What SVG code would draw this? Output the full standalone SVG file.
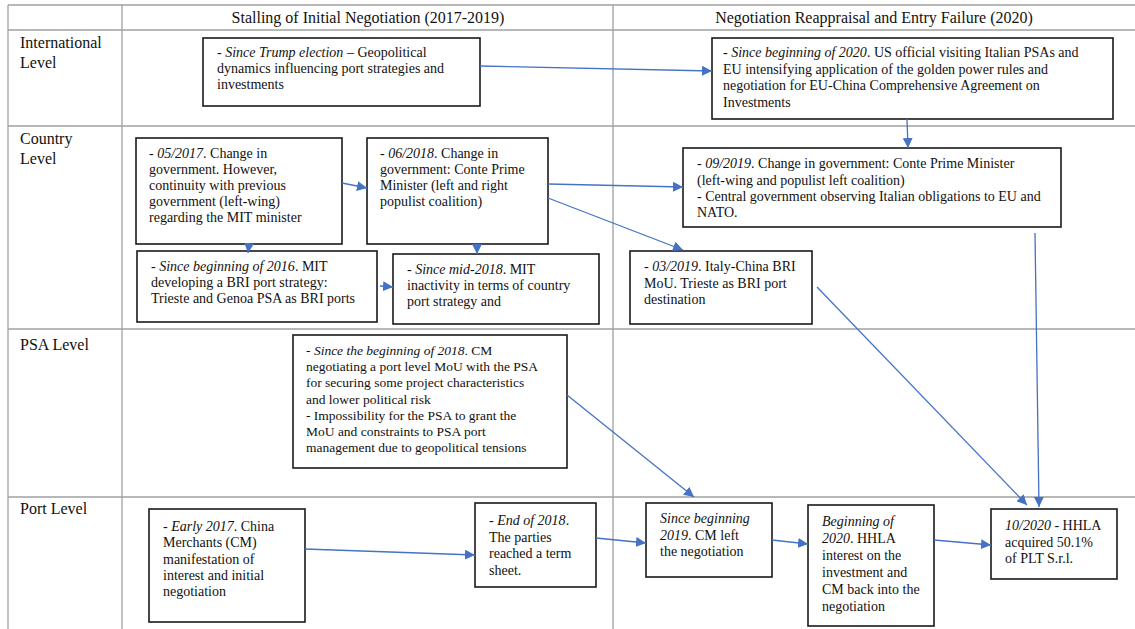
<svg xmlns="http://www.w3.org/2000/svg" width="1135" height="629" viewBox="0 0 1135 629">
<defs>
<marker id="ah" markerWidth="11" markerHeight="10" refX="10" refY="5" orient="auto" markerUnits="userSpaceOnUse">
<path d="M0,0 L10,5 L0,10 z" fill="#4472C4"/>
</marker>
<style>
.grid{stroke:#a0a0a0;stroke-width:1.3;fill:none}
.box{fill:#fff;stroke:#1a1a1a;stroke-width:1.6}
.t{font-family:"Liberation Serif","Times New Roman",serif;font-size:14px;fill:#111}
.s{font-size:13.5px}
.h{font-family:"Liberation Serif","Times New Roman",serif;font-size:16px;fill:#111}
.i{font-style:italic}
.c line{stroke:#4472C4;stroke-width:1.3;marker-end:url(#ah)}
</style>
</defs>
<rect width="1135" height="629" fill="#fff"/>
<g id="grid" class="grid">
<line x1="8" y1="5" x2="1135" y2="5"/>
<line x1="8" y1="30" x2="1135" y2="30"/>
<line x1="8" y1="126" x2="1135" y2="126"/>
<line x1="8" y1="329" x2="1135" y2="329"/>
<line x1="8" y1="497" x2="1135" y2="497"/>
<line x1="8" y1="5" x2="8" y2="629"/>
<line x1="122" y1="5" x2="122" y2="629"/>
<line x1="613" y1="5" x2="613" y2="629"/>
</g>
<g id="headers" class="h">
<text x="368" y="23" text-anchor="middle">Stalling of Initial Negotiation (2017-2019)</text>
<text x="874" y="23" text-anchor="middle">Negotiation Reappraisal and Entry Failure (2020)</text>
<text x="20" y="48">International</text>
<text x="20" y="68">Level</text>
<text x="20" y="144">Country</text>
<text x="20" y="164">Level</text>
<text x="20" y="350">PSA Level</text>
<text x="20" y="514">Port Level</text>
</g>
<g id="n1"><rect class="box" x="203" y="38" width="277" height="68"/>
<text class="t" x="217" y="57">- <tspan class="i">Since Trump election</tspan> – Geopolitical</text>
<text class="t" x="217" y="73">dynamics influencing port strategies and</text>
<text class="t" x="217" y="89">investments</text></g>
<g id="n2"><rect class="box" x="712" y="38" width="401" height="81"/>
<text class="t" x="723" y="57">- <tspan class="i">Since beginning of 2020</tspan>. US official visiting Italian PSAs and</text>
<text class="t" x="723" y="73.5">EU intensifying application of the golden power rules and</text>
<text class="t" x="723" y="90">negotiation for EU-China Comprehensive Agreement on</text>
<text class="t" x="723" y="106.5">Investments</text></g>
<g id="n3"><rect class="box" x="136" y="138" width="206" height="106"/>
<text class="t" x="149" y="158">- <tspan class="i">05/2017</tspan>. Change in</text>
<text class="t" x="149" y="174">government. However,</text>
<text class="t" x="149" y="190">continuity with previous</text>
<text class="t" x="149" y="206">government (left-wing)</text>
<text class="t" x="149" y="222">regarding the MIT minister</text></g>
<g id="n4"><rect class="box" x="367" y="138" width="181" height="106"/>
<text class="t" x="380" y="158">- <tspan class="i">06/2018</tspan>. Change in</text>
<text class="t" x="380" y="174">government: Conte Prime</text>
<text class="t" x="380" y="190">Minister (left and right</text>
<text class="t" x="380" y="206">populist coalition)</text></g>
<g id="n5"><rect class="box" x="137" y="251" width="240" height="71"/>
<text class="t" x="151" y="271">- <tspan class="i">Since beginning of 2016</tspan>. MIT</text>
<text class="t" x="151" y="287">developing a BRI port strategy:</text>
<text class="t" x="151" y="303">Trieste and Genoa PSA as BRI ports</text></g>
<g id="n6"><rect class="box" x="393" y="254" width="206" height="70"/>
<text class="t" x="407" y="274">- <tspan class="i">Since mid-2018</tspan>. MIT</text>
<text class="t" x="407" y="290">inactivity in terms of country</text>
<text class="t" x="407" y="306">port strategy and</text></g>
<g id="n7"><rect class="box" x="683" y="148" width="378" height="79"/>
<text class="t" x="697" y="168">- <tspan class="i">09/2019</tspan>. Change in government: Conte Prime Minister</text>
<text class="t" x="697" y="184.5">(left-wing and populist left coalition)</text>
<text class="t" x="697" y="201">- Central government observing Italian obligations to EU and</text>
<text class="t" x="697" y="217">NATO.</text></g>
<g id="n8"><rect class="box" x="630" y="251" width="182" height="73"/>
<text class="t" x="644" y="271">- <tspan class="i">03/2019</tspan>. Italy-China BRI</text>
<text class="t" x="644" y="287.5">MoU. Trieste as BRI port</text>
<text class="t" x="644" y="304">destination</text></g>
<g id="n9"><rect class="box" x="293" y="335" width="274" height="133"/>
<text class="t s" x="306" y="355">- <tspan class="i">Since the beginning of 2018</tspan>. CM</text>
<text class="t s" x="306" y="371.2">negotiating a port level MoU with the PSA</text>
<text class="t s" x="306" y="387.4">for securing some project characteristics</text>
<text class="t s" x="306" y="403.6">and lower political risk</text>
<text class="t s" x="306" y="419.8">- Impossibility for the PSA to grant the</text>
<text class="t s" x="306" y="436">MoU and constraints to PSA port</text>
<text class="t s" x="306" y="452.2">management due to geopolitical tensions</text></g>
<g id="n10"><rect class="box" x="149" y="509" width="156" height="113"/>
<text class="t" x="163" y="531">- <tspan class="i">Early 2017</tspan>.  China</text>
<text class="t" x="163" y="547.3">Merchants (CM)</text>
<text class="t" x="163" y="563.6">manifestation of</text>
<text class="t" x="163" y="579.9">interest and initial</text>
<text class="t" x="163" y="596.2">negotiation</text></g>
<g id="n11"><rect class="box" x="475" y="503" width="121" height="84"/>
<text class="t" x="489" y="525">- <tspan class="i">End of 2018</tspan>.</text>
<text class="t" x="489" y="541.5">The parties</text>
<text class="t" x="489" y="558">reached a term</text>
<text class="t" x="489" y="574.5">sheet.</text></g>
<g id="n12"><rect class="box" x="646" y="503" width="126" height="74"/>
<text class="t i" x="660" y="523">Since beginning</text>
<text class="t" x="660" y="539.5"><tspan class="i">2019</tspan>. CM left</text>
<text class="t" x="660" y="556">the negotiation</text></g>
<g id="n13"><rect class="box" x="808" y="505" width="126" height="121"/>
<text class="t i" x="822" y="526">Beginning of</text>
<text class="t" x="822" y="543">
<tspan class="i">2020</tspan>. HHLA</text>
<text class="t" x="822" y="560">interest on the</text>
<text class="t" x="822" y="577">investment and</text>
<text class="t" x="822" y="594">CM back into the</text>
<text class="t" x="822" y="611">negotiation</text></g>
<g id="n14"><rect class="box" x="991" y="509" width="126" height="70"/>
<text class="t" x="1005" y="530"><tspan class="i">10/2020</tspan> - HHLA</text>
<text class="t" x="1005" y="546.5">acquired 50.1%</text>
<text class="t" x="1005" y="563">of PLT S.r.l.</text></g>
<g id="connectors" class="c">
<line x1="480" y1="66" x2="712" y2="71"/>
<line x1="342" y1="183" x2="367" y2="188"/>
<line x1="249" y1="244" x2="248" y2="253"/>
<line x1="477" y1="244" x2="477" y2="254"/>
<line x1="380" y1="286" x2="393" y2="287"/>
<line x1="548" y1="184" x2="683" y2="187"/>
<line x1="548" y1="198" x2="683" y2="250"/>
<line x1="907" y1="119" x2="908" y2="148"/>
<line x1="817" y1="287" x2="1027" y2="505"/>
<line x1="1035" y1="233" x2="1039" y2="507"/>
<line x1="567" y1="395" x2="694" y2="497"/>
<line x1="305" y1="549" x2="475" y2="555"/>
<line x1="596" y1="538" x2="646" y2="543"/>
<line x1="772" y1="540" x2="808" y2="544"/>
<line x1="934" y1="540" x2="991" y2="545"/>
</g>
</svg>
